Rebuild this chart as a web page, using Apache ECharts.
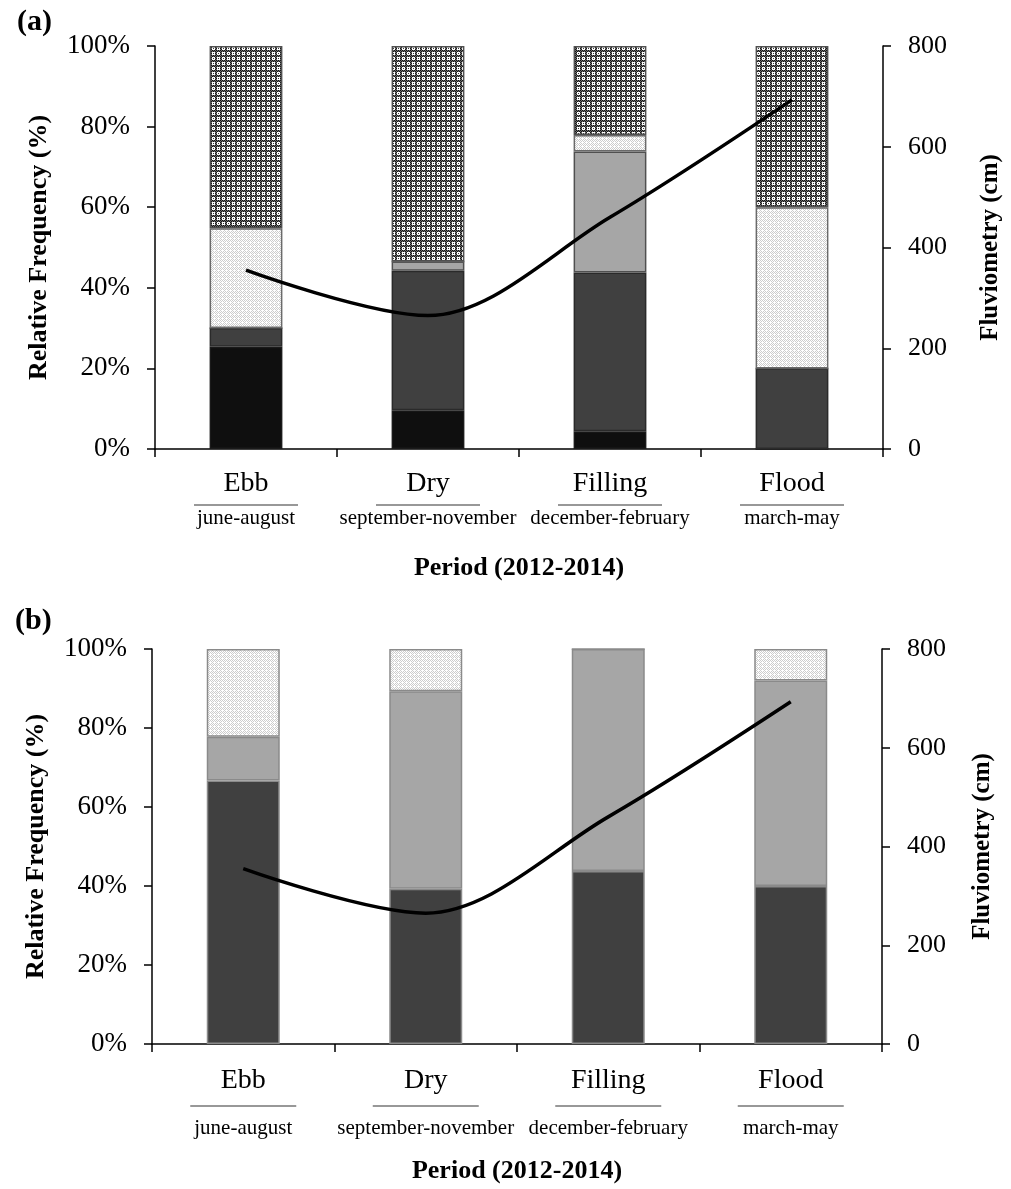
<!DOCTYPE html>
<html>
<head>
    <meta charset="utf-8">
    <title>Relative frequency by period</title>
    <script src="https://cdn.jsdelivr.net/npm/echarts@6/dist/echarts.min.js"></script>
    <style>
        html, body { margin: 0; padding: 0; background: #fff; }
        #chart { width: 1011px; height: 1189px; }
    </style>
</head>
<body>
<div id="chart"></div>
<script type="text/javascript">
    // periods and month ranges
    var periods = ['Ebb', 'Dry', 'Filling', 'Flood'];
    var months = ['june-august', 'september-november', 'december-february', 'march-may'];

    // panel (a) stacked relative frequency (%)
    var aBlack = [25.4, 9.6, 4.4, 0];
    var aDark = [4.6, 34.6, 39.4, 20];
    var aLight = [0, 2.3, 30, 0];
    var aDotted = [24.8, 0, 4.1, 40];
    var aCross = [45.2, 53.5, 22.1, 40];

    // panel (b) stacked relative frequency (%)
    var bDark = [66.7, 39.3, 43.8, 40];
    var bLight = [11.1, 50, 56.2, 52];
    var bDotted = [22.2, 10.7, 0, 8];

    // fluviometry (cm), right axis
    var fluvio = [355, 265, 460, 693];

    var pctTicks = [0, 20, 40, 60, 80, 100];
    var cmTicks = [0, 200, 400, 600, 800];

    var serif = 'Liberation Serif';

    function makePattern(kind) {
        var size = kind === 'cross' ? 10 : 8;
        var c = document.createElement('canvas');
        c.width = size;
        c.height = size;
        var ctx = c.getContext('2d');
        ctx.fillStyle = '#ffffff';
        ctx.fillRect(0, 0, size, size);
        for (var y = 0; y < size; y++) {
            for (var x = 0; x < size; x++) {
                var col = null;
                if (kind === 'cross') {
                    var band = (x % 5 < 2) || (y % 5 < 2);
                    if (band) {
                        col = (x + y) % 2 === 0 ? '#141414' : '#6e6e6e';
                    } else if (x % 5 === 3 && y % 5 === 3) {
                        col = '#3a3a3a';
                    }
                } else {
                    if ((x + y) % 2 === 0 && !(x % 4 === 2 && y % 4 === 2)) {
                        col = '#cdcdcd';
                    }
                }
                if (col) {
                    ctx.fillStyle = col;
                    ctx.fillRect(x, y, 1, 1);
                }
            }
        }
        return c;
    }

    var crossFill = {image: makePattern('cross'), repeat: 'repeat'};
    var dotFill = {image: makePattern('dot'), repeat: 'repeat'};

    // p: label spacing per panel
    function xAxisFor(gridIndex, p) {
        return {
            type: 'category',
            gridIndex: gridIndex,
            data: periods,
            axisLine: {lineStyle: {color: '#000', width: 1.5}},
            axisTick: {show: true, length: 8, lineStyle: {color: '#000', width: 1.5}},
            axisLabel: {
                margin: p.margin,
                interval: 0,
                formatter: function (v, i) {
                    return '{t|' + v + '}\n{ln| }\n{s|' + months[i] + '}';
                },
                rich: {
                    t: {fontFamily: serif, fontSize: 28, color: '#000', lineHeight: 36},
                    ln: {width: p.lineW, height: 1, backgroundColor: '#333', lineHeight: p.lnH, fontSize: 1},
                    s: {fontFamily: serif, fontSize: 21, color: '#000', lineHeight: p.sH}
                }
            },
            name: 'Period (2012-2014)',
            nameLocation: 'middle',
            nameGap: p.nameGap,
            nameTextStyle: {fontFamily: serif, fontSize: 26, fontWeight: 'bold', color: '#000'}
        };
    }

    function pctAxis(gridIndex) {
        return {
            type: 'value',
            gridIndex: gridIndex,
            min: pctTicks[0],
            max: pctTicks[pctTicks.length - 1],
            interval: 20,
            splitLine: {show: false},
            axisLine: {show: true, lineStyle: {color: '#000', width: 1.5}},
            axisTick: {show: true, length: 8, lineStyle: {color: '#000', width: 1.5}},
            axisLabel: {formatter: '{value}%', fontFamily: serif, fontSize: 27, color: '#000', margin: 25},
            name: 'Relative Frequency (%)',
            nameLocation: 'middle',
            nameRotate: 90,
            nameGap: 103,
            nameTextStyle: {fontFamily: serif, fontSize: 26, fontWeight: 'bold', color: '#000'}
        };
    }

    function cmAxis(gridIndex, gap) {
        return {
            type: 'value',
            gridIndex: gridIndex,
            position: 'right',
            min: cmTicks[0],
            max: cmTicks[cmTicks.length - 1],
            interval: 200,
            splitLine: {show: false},
            axisLine: {show: true, lineStyle: {color: '#000', width: 1.5}},
            axisTick: {show: true, length: 8, lineStyle: {color: '#000', width: 1.5}},
            axisLabel: {fontFamily: serif, fontSize: 26, color: '#000', margin: 25},
            name: 'Fluviometry (cm)',
            nameLocation: 'middle',
            nameRotate: 90,
            nameGap: gap,
            nameTextStyle: {fontFamily: serif, fontSize: 25, fontWeight: 'bold', color: '#000'}
        };
    }

    function barSeries(name, data, stack, xi, yi, fill, border) {
        return {
            name: name,
            type: 'bar',
            stack: stack,
            xAxisIndex: xi,
            yAxisIndex: yi,
            barWidth: '40%',
            data: data,
            itemStyle: {color: fill, borderColor: border, borderWidth: 1.5},
            emphasis: {disabled: true}
        };
    }

    function lineSeries(xi, yi) {
        return {
            type: 'line',
            xAxisIndex: xi,
            yAxisIndex: yi,
            data: fluvio,
            smooth: 0.33,
            showSymbol: false,
            z: 5,
            lineStyle: {color: '#000', width: 3.5}
        };
    }

    var dom = document.getElementById('chart');
    var myChart = echarts.init(dom, null, {renderer: 'canvas'});

    var option = {
        backgroundColor: '#fff',
        animation: false,
        title: [
            {text: '(a)', left: 12, top: 2, textStyle: {fontFamily: serif, fontSize: 30, fontWeight: 'bold', color: '#000'}},
            {text: '(b)', left: 10, top: 601, textStyle: {fontFamily: serif, fontSize: 30, fontWeight: 'bold', color: '#000'}}
        ],
        grid: [
            {left: 155, right: 122, top: 46, height: 403},
            {left: 152, right: 129, top: 649, height: 395}
        ],
        xAxis: [
            xAxisFor(0, {margin: 17, lineW: 104, lnH: 6, sH: 20, nameGap: 106}),
            xAxisFor(1, {margin: 19, lineW: 106, lnH: 14, sH: 30, nameGap: 114})
        ],
        yAxis: [pctAxis(0), cmAxis(0, 95), pctAxis(1), cmAxis(1, 88)],
        series: [
            barSeries('a1', aBlack, 'a', 0, 0, '#0f0f0f', '#1a1a1a'),
            barSeries('a2', aDark, 'a', 0, 0, '#404040', '#2a2a2a'),
            barSeries('a3', aLight, 'a', 0, 0, '#a6a6a6', '#505050'),
            barSeries('a4', aDotted, 'a', 0, 0, dotFill, '#6a6a6a'),
            barSeries('a5', aCross, 'a', 0, 0, crossFill, '#505050'),
            lineSeries(0, 1),
            barSeries('b1', bDark, 'b', 1, 2, '#404040', '#8a8a8a'),
            barSeries('b2', bLight, 'b', 1, 2, '#a6a6a6', '#8a8a8a'),
            barSeries('b3', bDotted, 'b', 1, 2, dotFill, '#8a8a8a'),
            lineSeries(1, 3)
        ]
    };

    if (option && typeof option === 'object') {
        myChart.setOption(option);
    }

    window.addEventListener('resize', myChart.resize);
</script>
</body>
</html>
